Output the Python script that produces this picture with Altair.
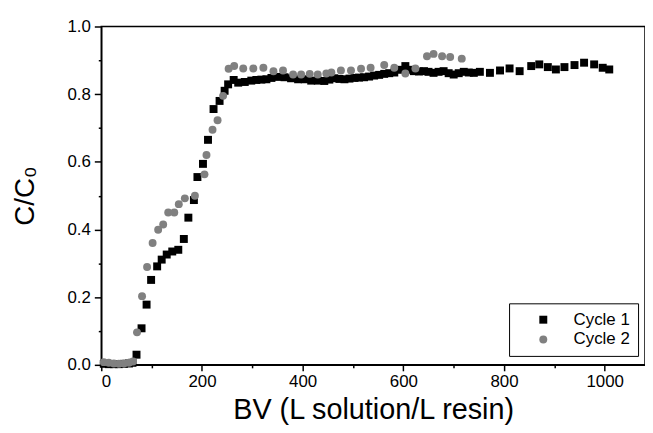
import altair as alt
import pandas as pd

series_names = ["Cycle 1", "Cycle 2"]

# Cycle 1 (black squares)
bv_cycle1 = [5, 15, 25, 35, 45, 55, 62, 70, 80, 90, 99, 111, 120, 130, 141, 153, 164, 173, 184, 191,
             202, 212, 223, 235, 245, 252, 263, 272, 285, 298, 308, 318, 328, 338, 351, 364, 377, 391,
             404, 417, 430, 443, 453, 463, 473, 483, 493, 503, 512, 522, 532, 542, 552, 562, 572, 582,
             593, 604, 612, 621, 631, 641, 650, 660, 670, 680, 690, 700, 710, 720, 730, 740, 752, 772,
             792, 811, 831, 854, 870, 887, 903, 920, 940, 959, 979, 996, 1009]
cc0_cycle1 = [0.003, 0.002, 0.002, 0.002, 0.003, 0.004, 0.006, 0.030, 0.108, 0.178, 0.251, 0.291, 0.311,
              0.326, 0.335, 0.340, 0.372, 0.435, 0.487, 0.555, 0.594, 0.665, 0.756, 0.780, 0.810, 0.829,
              0.842, 0.834, 0.836, 0.840, 0.842, 0.843, 0.844, 0.848, 0.851, 0.850, 0.847, 0.844, 0.844,
              0.840, 0.840, 0.839, 0.843, 0.847, 0.845, 0.844, 0.846, 0.848, 0.849, 0.850, 0.852, 0.855,
              0.857, 0.860, 0.862, 0.864, 0.872, 0.883, 0.872, 0.868, 0.867, 0.868, 0.866, 0.863, 0.866,
              0.868, 0.862, 0.858, 0.862, 0.866, 0.864, 0.863, 0.866, 0.863, 0.870, 0.876, 0.868, 0.883,
              0.888, 0.880, 0.873, 0.880, 0.886, 0.893, 0.888, 0.878, 0.873]

# Cycle 2 (grey circles)
bv_cycle2 = [5, 15, 25, 35, 45, 55, 63, 71, 81, 91, 102, 113, 123, 133, 145, 154, 166, 186, 205, 209,
             221, 231, 242, 253, 264, 282, 302, 322, 342, 361, 381, 397, 414, 430, 447, 457, 476, 496,
             516, 535, 562, 582, 604, 624, 647, 660, 677, 693, 716]
cc0_cycle2 = [0.008, 0.006, 0.004, 0.003, 0.004, 0.006, 0.010, 0.096, 0.203, 0.289, 0.360, 0.399, 0.415,
              0.450, 0.450, 0.475, 0.492, 0.500, 0.563, 0.620, 0.695, 0.723, 0.795, 0.875, 0.883, 0.876,
              0.876, 0.878, 0.868, 0.870, 0.858, 0.858, 0.860, 0.858, 0.861, 0.864, 0.870, 0.870, 0.875,
              0.878, 0.886, 0.878, 0.861, 0.876, 0.912, 0.919, 0.912, 0.910, 0.905]

x_tick_values = [0, 100, 200, 300, 400, 500, 600, 700, 800, 900, 1000]
y_tick_values = [0.0, 0.1, 0.2, 0.3, 0.4, 0.5, 0.6, 0.7, 0.8, 0.9, 1.0]

rows = []
for x, y in zip(bv_cycle1, cc0_cycle1):
    rows.append({"BV": x, "C": y, "Series": series_names[0]})
for x, y in zip(bv_cycle2, cc0_cycle2):
    rows.append({"BV": x, "C": y, "Series": series_names[1]})
df = pd.DataFrame(rows)

FONT = "Liberation Sans"

chart = alt.Chart(df).mark_point(filled=True, size=64, opacity=1, strokeWidth=0).encode(
    x=alt.X("BV:Q",
            scale=alt.Scale(domain=[0, 1080], nice=False, zero=False),
            axis=alt.Axis(title="BV (L solution/L resin)", values=x_tick_values,
                          labelExpr="datum.value % 200 === 0 ? datum.label : ''",
                          tickSize={"condition": {"test": "datum.value % 200 === 0", "value": 6}, "value": 3},
                          grid=False, format="d", labelFontSize=17, titleFontSize=29,
                          titlePadding=6, labelPadding=3)),
    y=alt.Y("C:Q",
            scale=alt.Scale(domain=[0, 1.0], nice=False),
            axis=alt.Axis(title="C/C₀", values=y_tick_values, format=".1f",
                          labelExpr="round(datum.value * 10) % 2 === 0 ? datum.label : ''",
                          tickSize={"condition": {"test": "round(datum.value * 10) % 2 === 0", "value": 7}, "value": 3},
                          grid=False, labelFontSize=17, titleFontSize=28, titlePadding=28,
                          labelPadding=4)),
    color=alt.Color("Series:N",
                    scale=alt.Scale(domain=series_names, range=["#000000", "#808080"]),
                    legend=alt.Legend(title=None, orient="none", legendX=411, legendY=279,
                                      strokeColor="#000000", fillColor="#ffffff", padding=8,
                                      labelFontSize=17, symbolOffset=18, labelOffset=22,
                                      rowPadding=2, symbolSize=64)),
    shape=alt.Shape("Series:N",
                    scale=alt.Scale(domain=series_names, range=["square", "circle"])),
).properties(
    width=548,
    height=341,
    autosize="none",
    padding={"left": 94, "top": 17, "right": 0, "bottom": 60},
).configure_view(
    stroke="#000000", strokeWidth=1.5
).configure_axis(
    domainColor="#000000", tickColor="#000000", labelColor="#000000", titleColor="#000000",
    labelFont=FONT, titleFont=FONT, titleFontWeight="normal", domainWidth=1.5, tickWidth=1.5
).configure_legend(
    labelFont=FONT, labelColor="#000000"
)

chart.save("out.html", embed_options={"renderer": "svg", "actions": False})
